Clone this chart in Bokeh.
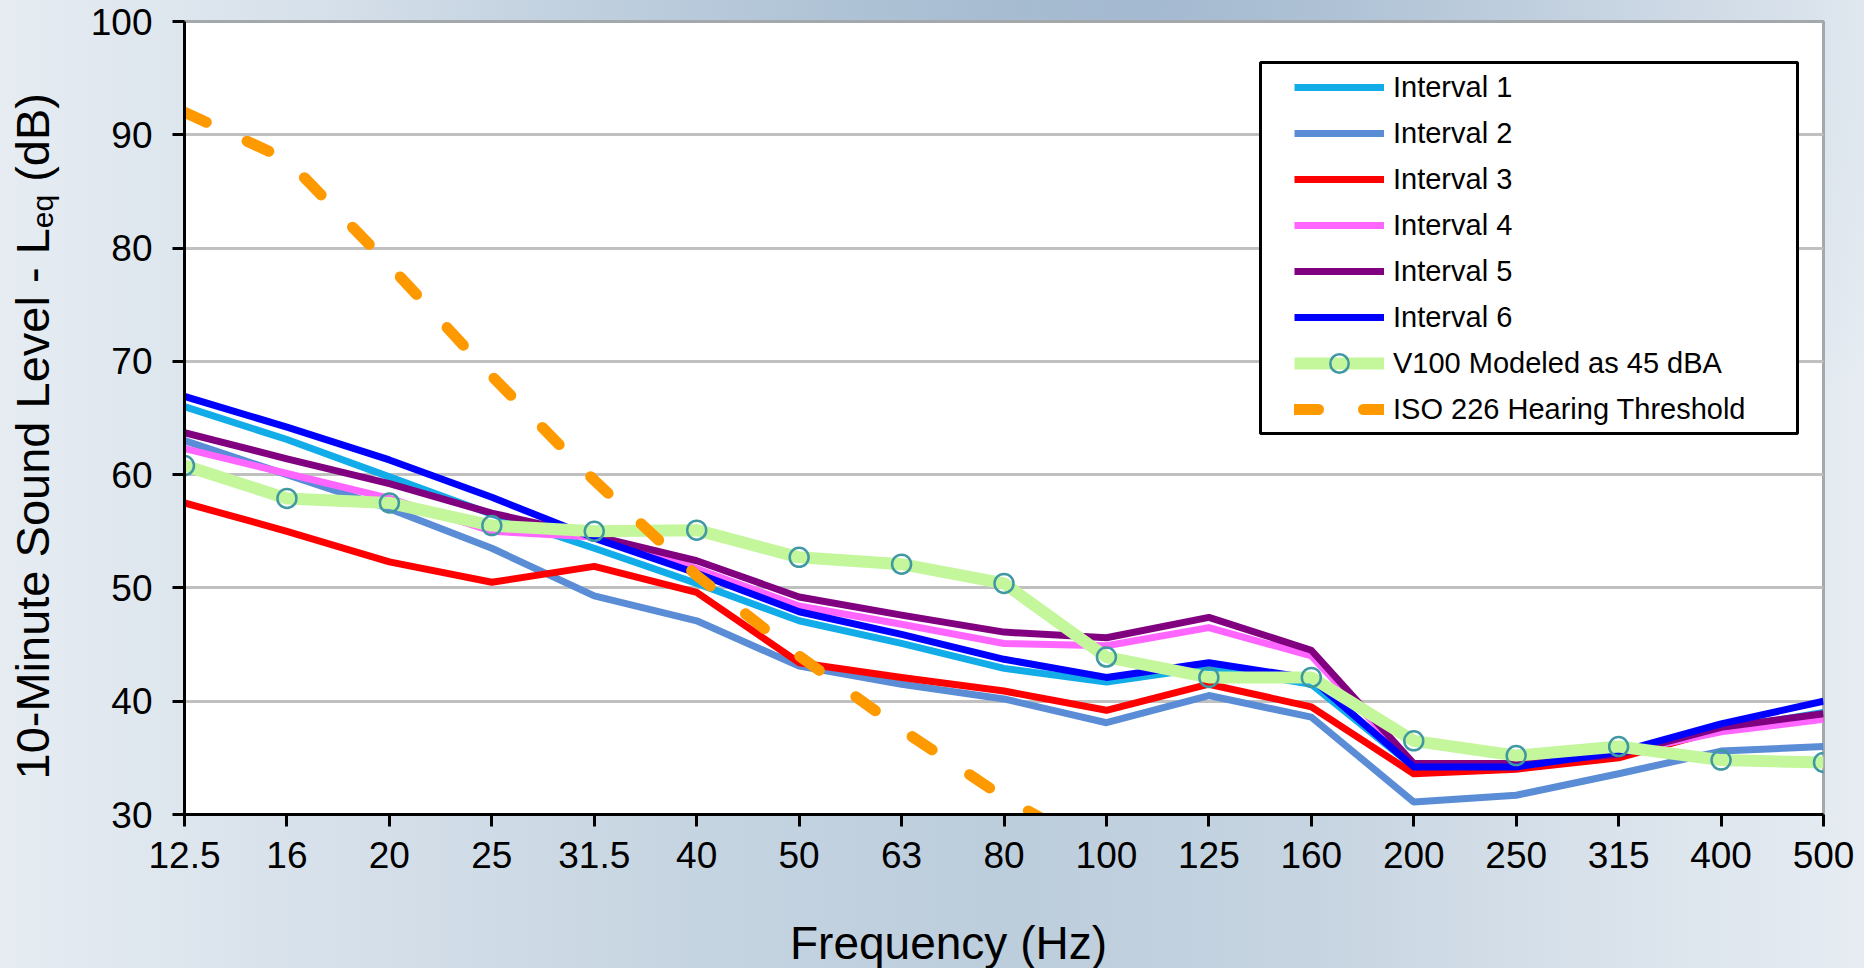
from math import pi
from bokeh.plotting import figure
from bokeh.layouts import row, column
from bokeh.models import Range1d, FixedTicker, Legend, LegendItem, Label, BoxAnnotation
from bokeh.embed import file_html
from bokeh.resources import INLINE

# ---------------- data ----------------
freqs = ["12.5", "16", "20", "25", "31.5", "40", "50", "63", "80", "100",
         "125", "160", "200", "250", "315", "400", "500"]
interval_1 = [66.0, 63.1, 59.8, 56.5, 53.5, 50.4, 47.1, 45.1, 42.9, 41.7, 43.0, 41.5, 34.2, 34.3, 35.1, 37.5, 39.0]
interval_2 = [63.0, 60.0, 57.0, 53.5, 49.3, 47.1, 43.1, 41.5, 40.2, 38.1, 40.5, 38.6, 31.1, 31.7, 33.6, 35.6, 36.0]
interval_3 = [57.5, 55.0, 52.3, 50.5, 51.9, 49.6, 43.4, 42.1, 40.9, 39.2, 41.5, 39.5, 33.6, 34.0, 35.0, 37.5, 38.5]
interval_4 = [62.3, 60.1, 57.9, 55.0, 54.5, 51.7, 48.4, 46.8, 45.1, 44.9, 46.5, 44.0, 34.3, 34.4, 35.4, 37.3, 38.4]
interval_5 = [63.7, 61.4, 59.2, 56.6, 54.6, 52.4, 49.2, 47.6, 46.1, 45.6, 47.4, 44.5, 34.5, 34.5, 35.3, 37.7, 38.9]
interval_6 = [66.9, 64.2, 61.3, 58.0, 54.4, 51.3, 47.9, 45.9, 43.7, 42.1, 43.4, 42.0, 34.2, 34.2, 35.5, 38.0, 40.0]
v100_modeled = [60.8, 57.9, 57.5, 55.5, 55.0, 55.1, 52.7, 52.1, 50.4, 43.9, 42.1, 42.1, 36.5, 35.2, 36.0, 34.8, 34.6]
iso226_threshold = [92.0, 87.8, 78.5, 68.7, 59.5, 51.1, 44.0, 37.5, 31.5, 26.5]
y_ticks = [30, 40, 50, 60, 70, 80, 90, 100]

series_names = ["Interval 1", "Interval 2", "Interval 3", "Interval 4", "Interval 5", "Interval 6"]
series_values = [interval_1, interval_2, interval_3, interval_4, interval_5, interval_6]
series_colors = ["#12ade9", "#5a8dd6", "#ff0000", "#ff66ff", "#800080", "#0000ff"]

x_idx = list(range(len(freqs)))
FONT = "Liberation Sans"

TOTAL_W, TOTAL_H = 1864, 968
STRIP_W = 72          # left strip holding the y-axis title
STRIP_H = 80          # bottom strip holding the x-axis title
MAIN_W = TOTAL_W - STRIP_W
MAIN_H = TOTAL_H - STRIP_H

# ---------------- main figure ----------------
p = figure(width=MAIN_W, height=MAIN_H, output_backend="svg", toolbar_location=None,
           x_range=Range1d(0, len(freqs) - 1), y_range=Range1d(30, 100),
           min_border_left=184 - STRIP_W, min_border_right=41, min_border_top=21,
           min_border_bottom=MAIN_H - 814)
p.border_fill_color = None
p.background_fill_color = "white"
p.outline_line_color = "#a3a8ad"
p.outline_line_width = 3

p.xgrid.grid_line_color = None
p.ygrid.grid_line_color = "#c0c0c0"
p.ygrid.grid_line_width = 3

xa = p.xaxis[0]
xa.ticker = FixedTicker(ticks=x_idx)
xa.major_label_overrides = {i: f for i, f in zip(x_idx, freqs)}
ya = p.yaxis[0]
ya.ticker = FixedTicker(ticks=y_ticks)
for ax in (xa, ya):
    ax.axis_line_color = "black"
    ax.axis_line_width = 3
    ax.major_tick_line_color = "black"
    ax.major_tick_line_width = 3
    ax.major_tick_out = 12
    ax.major_tick_in = 0
    ax.minor_tick_line_color = None
    ax.major_label_text_font = FONT
    ax.major_label_text_font_size = "37px"
    ax.major_label_text_color = "black"
xa.major_label_standoff = 15
ya.major_label_standoff = 20

renderers = []
for name, vals, col in zip(series_names, series_values, series_colors):
    r = p.line(x_idx, vals, line_color=col, line_width=7, line_join="round")
    renderers.append((name, [r]))

v_line = p.line(x_idx, v100_modeled, line_color="#c4f79c", line_width=12, line_join="round")
v_pts = p.scatter(x_idx, v100_modeled, marker="circle", size=19, fill_color=None,
                  line_color="#3f98a2", line_width=2.5)
renderers.append(("V100 Modeled as 45 dBA", [v_line, v_pts]))

iso = p.line(x_idx[:len(iso226_threshold)], iso226_threshold, line_color="#ff9900", line_width=11,
             line_dash="24 45", line_cap="round", line_join="round")
renderers.append(("ISO 226 Hearing Threshold", [iso]))

box = BoxAnnotation(left=1076, right=1613, top=752, bottom=381,
                    left_units="screen", right_units="screen", top_units="screen", bottom_units="screen",
                    fill_color="white", fill_alpha=1.0, line_color="black", line_width=3, line_alpha=1.0)
p.add_layout(box)

legend = Legend(items=[LegendItem(label=n, renderers=rs) for n, rs in renderers],
                location=(1110, 382), padding=0, margin=0, spacing=0,
                glyph_width=90, glyph_height=46, label_height=46, label_standoff=9,
                border_line_color=None, background_fill_alpha=0.0,
                label_text_font=FONT, label_text_font_size="29px", label_text_color="black")
p.add_layout(legend)


def strip(w, h):
    f = figure(width=w, height=h, output_backend="svg", toolbar_location=None,
               x_range=Range1d(0, w), y_range=Range1d(0, h),
               x_axis_location=None, y_axis_location=None,
               min_border=0, min_border_left=0, min_border_right=0,
               min_border_top=0, min_border_bottom=0, title=None)
    f.grid.visible = False
    f.outline_line_color = None
    f.background_fill_color = None
    f.border_fill_color = None
    return f


# ---------------- y-axis title (left strip; its frame is aligned with the main frame) ----------------
left = strip(STRIP_W, MAIN_H)
main_size, sub_size = 47, 30
base_x = 32
y0 = 814 - 779
w1 = 11.728 * main_size
w2 = 1.112 * sub_size
gap = 0.278 * main_size
left.add_layout(Label(x=base_x, y=y0, x_units="screen", y_units="screen",
                      text="10-Minute Sound Level - L", angle=pi / 2,
                      text_font=FONT, text_font_size=f"{main_size}px", text_align="left",
                      text_baseline="alphabetic", text_color="black"))
left.add_layout(Label(x=base_x + 10, y=y0 + w1, x_units="screen", y_units="screen",
                      text="eq", angle=pi / 2,
                      text_font=FONT, text_font_size=f"{sub_size}px", text_align="left",
                      text_baseline="alphabetic", text_color="black"))
left.add_layout(Label(x=base_x, y=y0 + w1 + w2 + gap, x_units="screen", y_units="screen",
                      text="(dB)", angle=pi / 2,
                      text_font=FONT, text_font_size=f"{main_size}px", text_align="left",
                      text_baseline="alphabetic", text_color="black"))

# ---------------- x-axis title (bottom strip) ----------------
bottom = strip(TOTAL_W, STRIP_H)
bottom.add_layout(Label(x=948, y=TOTAL_H - 956 + 14, x_units="screen", y_units="screen",
                        text="Frequency (Hz)", text_font=FONT, text_font_size="46px",
                        text_align="center", text_baseline="alphabetic", text_color="black"))

layout = column(row(left, p, spacing=0), bottom, spacing=0)
layout.styles = {
    "background": "radial-gradient(ellipse 45% 70% at 62% 0%, rgba(125,155,188,0.42) 0%, rgba(125,155,188,0.0) 100%), "
                  "linear-gradient(to right, #e6ecf2 0%, #d6e0ea 18%, #c5d4e1 38%, #bccddc 54%, #c6d4e1 70%, #d9e2eb 86%, #e6ecf2 100%)",
    "width": f"{TOTAL_W}px",
    "height": f"{TOTAL_H}px",
}

open("out.html", "w").write(file_html(layout, INLINE))
